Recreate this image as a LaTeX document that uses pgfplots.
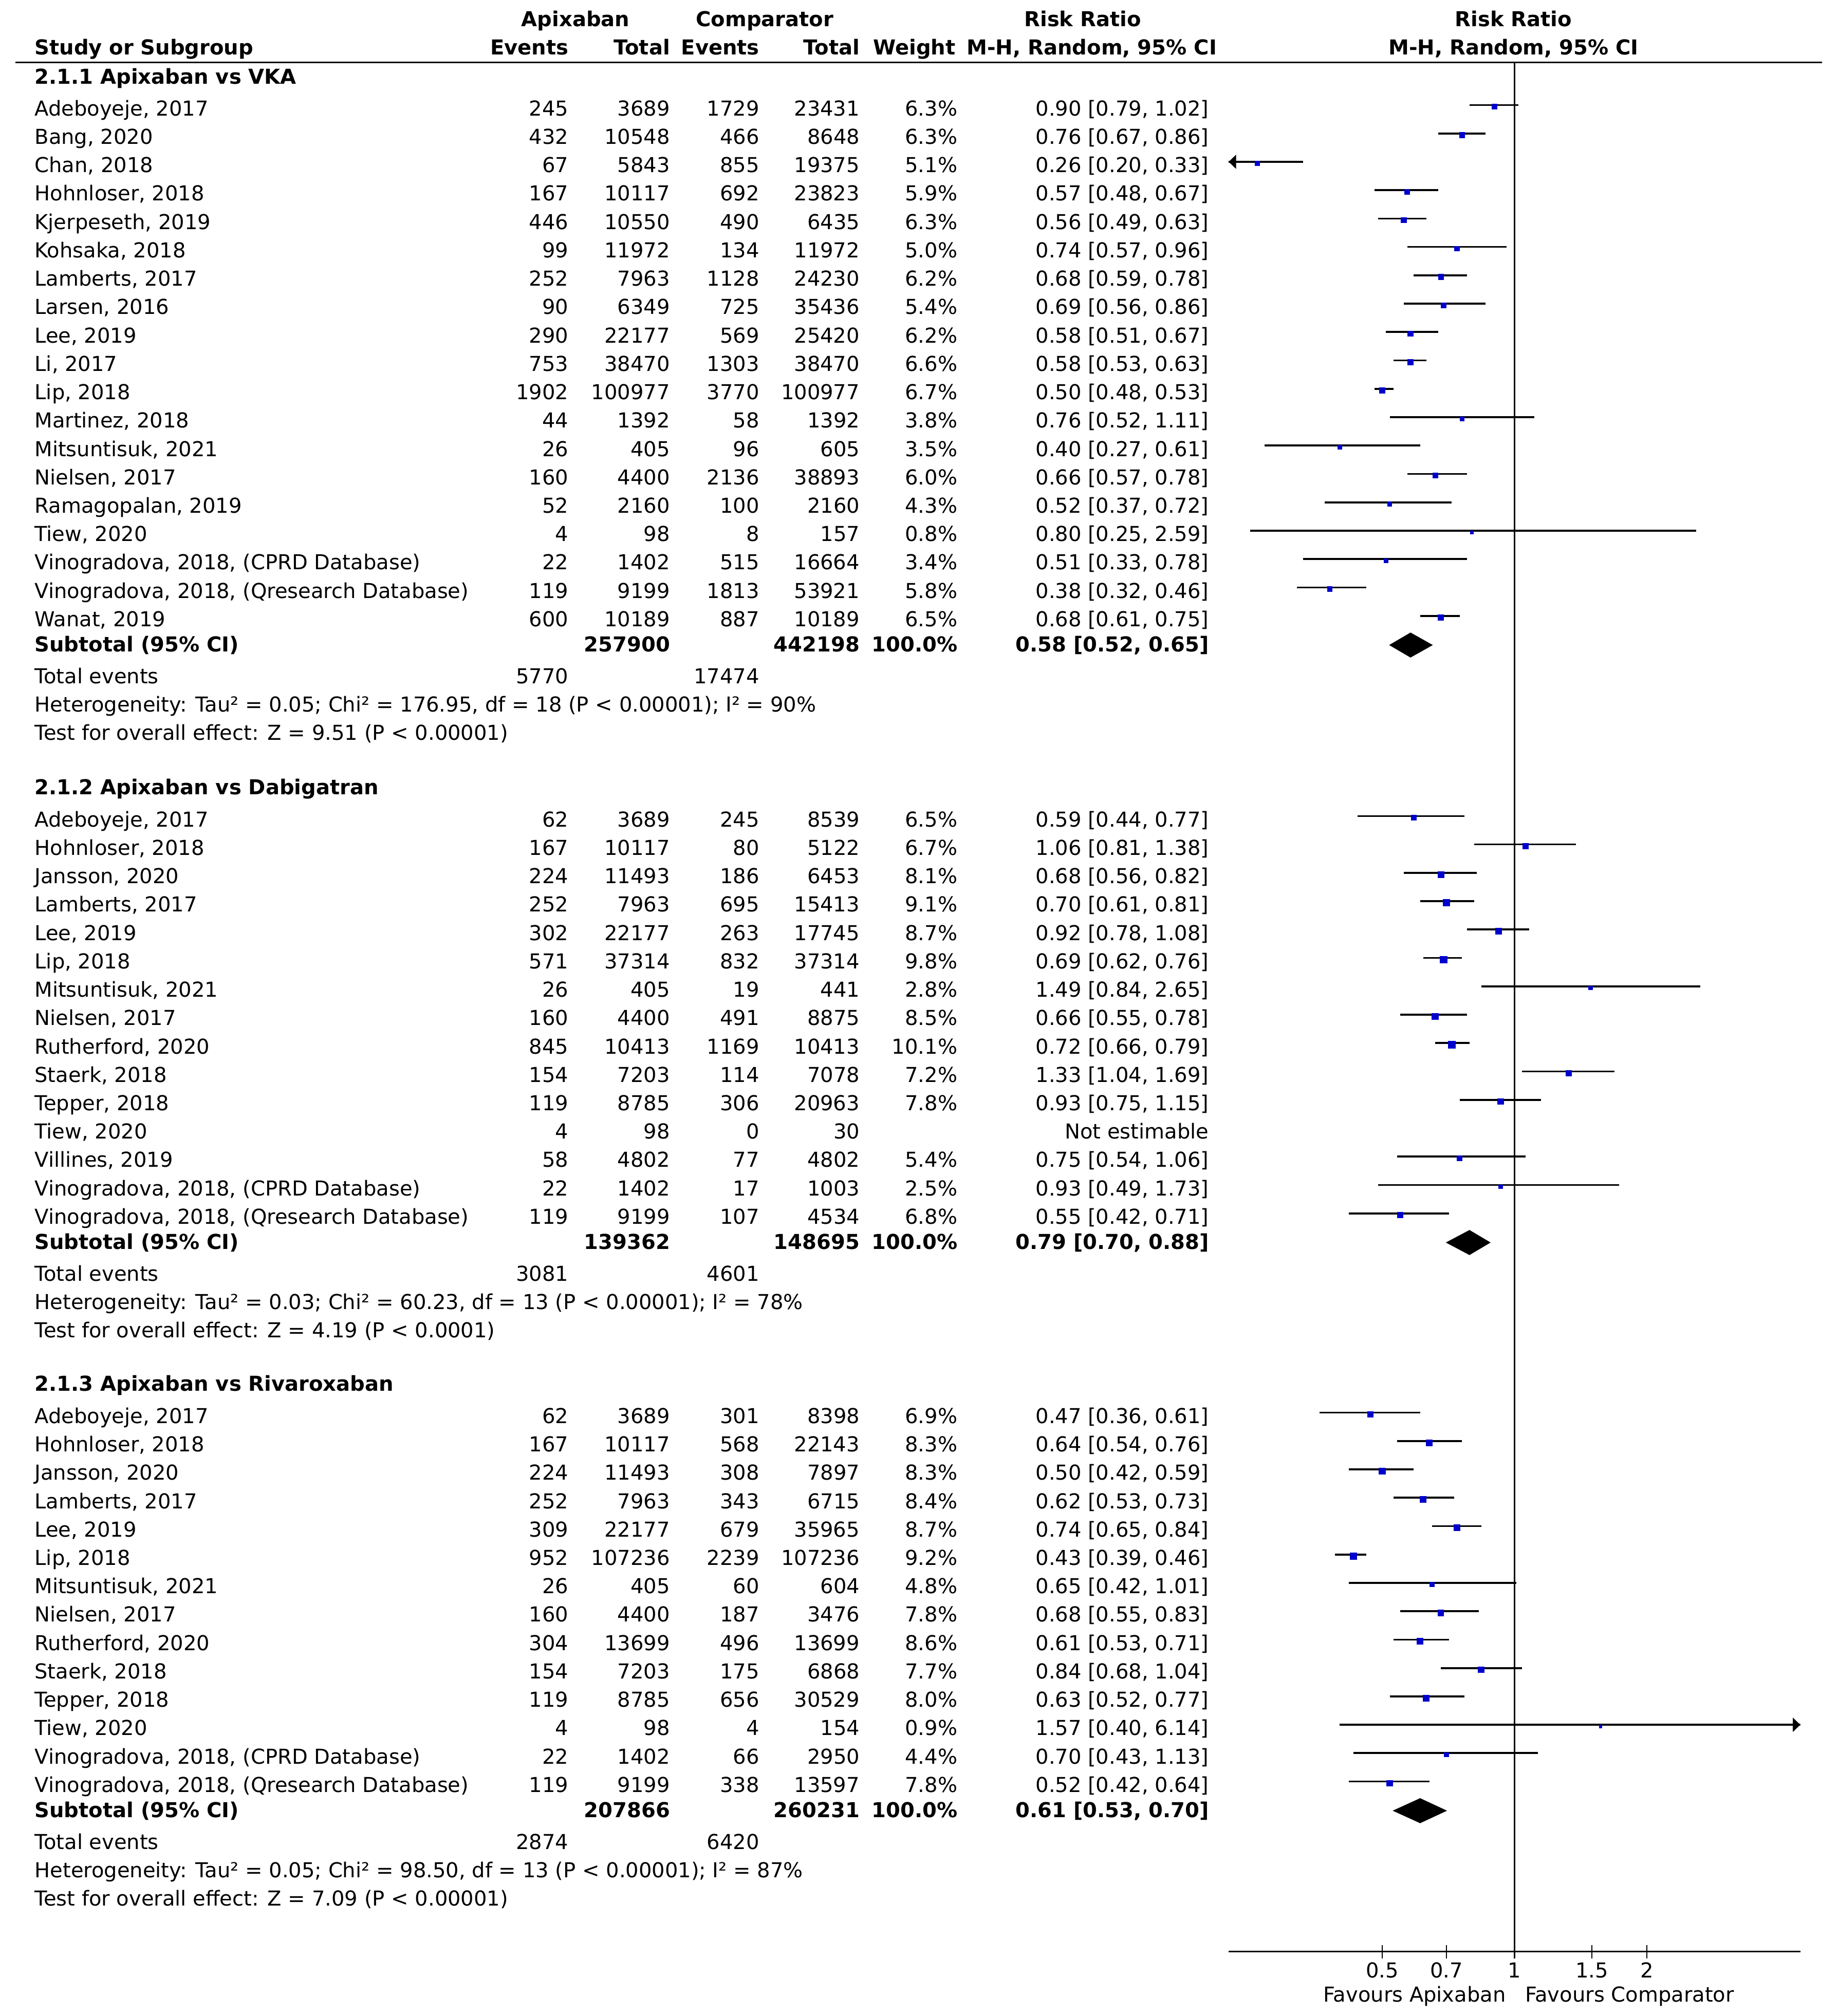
\documentclass[border=0pt]{standalone}
\usepackage{fontspec}
\setmainfont{DejaVu Sans}
\usepackage{pgfplots}
\usepackage{pgfplotstable}
\usetikzlibrary{arrows.meta}
\pgfplotsset{compat=1.18}
\definecolor{mblue}{RGB}{0,0,204}
\newcommand\fs{\fontsize{8}{9.6}\selectfont}

% study rows: i rr lo hi w (weight in %)
\pgfplotstableread{
i rr lo hi w
0 0.90 0.79 1.02 6.3
1 0.76 0.67 0.86 6.3
2 0.26 0.20 0.33 5.1
3 0.57 0.48 0.67 5.9
4 0.56 0.49 0.63 6.3
5 0.74 0.57 0.96 5.0
6 0.68 0.59 0.78 6.2
7 0.69 0.56 0.86 5.4
8 0.58 0.51 0.67 6.2
9 0.58 0.53 0.63 6.6
10 0.50 0.48 0.53 6.7
11 0.76 0.52 1.11 3.8
12 0.40 0.27 0.61 3.5
13 0.66 0.57 0.78 6.0
14 0.52 0.37 0.72 4.3
15 0.80 0.25 2.59 0.8
16 0.51 0.33 0.78 3.4
17 0.38 0.32 0.46 5.8
18 0.68 0.61 0.75 6.5
}\secA
\pgfplotstableread{
i rr lo hi w
0 0.59 0.44 0.77 6.5
1 1.06 0.81 1.38 6.7
2 0.68 0.56 0.82 8.1
3 0.70 0.61 0.81 9.1
4 0.92 0.78 1.08 8.7
5 0.69 0.62 0.76 9.8
6 1.49 0.84 2.65 2.8
7 0.66 0.55 0.78 8.5
8 0.72 0.66 0.79 10.1
9 1.33 1.04 1.69 7.2
10 0.93 0.75 1.15 7.8
12 0.75 0.54 1.06 5.4
13 0.93 0.49 1.73 2.5
14 0.55 0.42 0.71 6.8
}\secB
\pgfplotstableread{
i rr lo hi w
0 0.47 0.36 0.61 6.9
1 0.64 0.54 0.76 8.3
2 0.50 0.42 0.59 8.3
3 0.62 0.53 0.73 8.4
4 0.74 0.65 0.84 8.7
5 0.43 0.39 0.46 9.2
6 0.65 0.42 1.01 4.8
7 0.68 0.55 0.83 7.8
8 0.61 0.53 0.71 8.6
9 0.84 0.68 1.04 7.7
10 0.63 0.52 0.77 8.0
11 1.57 0.40 6.14 0.9
12 0.70 0.43 1.13 4.4
13 0.52 0.42 0.64 7.8
}\secC

\pgfplotsset{
  ciline/.style={only marks, mark=*, mark size=0pt, mark options={draw=none, fill=none},
    error bars/.cd, x dir=both, x explicit,
    error mark=none, error bar style={line width=0.75pt, draw=black}},
  rrmark/.style={only marks, scatter, point meta=\thisrow{w},
    mark=square*,
    scatter/use mapped color={draw=mblue, fill=mblue},
    visualization depends on={\thisrow{w}\as\wt},
    scatter/@pre marker code/.append style={/tikz/mark size={0.4pt+0.085pt*\wt}, /tikz/line width=0pt}},
}

\newcount\ri
\newcommand\srow[7]{%
  \pgfmathsetmacro\yy{\base+22.07*\the\ri}%
  \node[anchor=base west] at (27,\yy) {#1};
  \node[anchor=base east] at (442,\yy) {#2};
  \node[anchor=base east] at (521,\yy) {#3};
  \node[anchor=base east] at (590.5,\yy) {#4};
  \node[anchor=base east] at (668.5,\yy) {#5};
  \node[anchor=base east] at (744.5,\yy) {#6};
  \node[anchor=base east] at (940,\yy) {#7};
  \global\advance\ri by 1\relax}
\newcommand\sechead[3]{\node[anchor=base west,font=\fs\bfseries] at (27,#1) {#2};
  \gdef\base{#3}\global\ri=0\relax}
\newcommand\subtot[4]{%
  \node[anchor=base west,font=\fs\bfseries] at (27,#1) {Subtotal (95\% CI)};
  \node[anchor=base east,font=\fs\bfseries] at (521,#1) {#2};
  \node[anchor=base east,font=\fs\bfseries] at (668.5,#1) {#3};
  \node[anchor=base east,font=\fs\bfseries] at (744.5,#1) {100.0\%};
  \node[anchor=base east,font=\fs\bfseries] at (940,#1) {#4};}
\newcommand\totev[3]{%
  \node[anchor=base west] at (27,#1) {Total events};
  \node[anchor=base east] at (442,#1) {#2};
  \node[anchor=base east] at (590.5,#1) {#3};}
\newcommand\txt[2]{\node[anchor=base west] at (27,#1) {#2};}

\begin{document}
\begin{tikzpicture}[x=0.5pt, y=-0.5pt, every node/.style={font=\fs, inner sep=0pt, outer sep=0pt}]
\path[use as bounding box] (0,0) rectangle (1429,1568);

% column headers
\node[anchor=base, font=\fs\bfseries] at (447.6,20.7) {Apixaban};
\node[anchor=base, font=\fs\bfseries] at (594.7,20.7) {Comparator};
\node[anchor=base, font=\fs\bfseries] at (842,20.7) {Risk Ratio};
\node[anchor=base, font=\fs\bfseries] at (1177,20.7) {Risk Ratio};
\node[anchor=base west, font=\fs\bfseries] at (27,42.7) {Study or Subgroup};
\node[anchor=base east, font=\fs\bfseries] at (442,42.7) {Events};
\node[anchor=base east, font=\fs\bfseries] at (521,42.7) {Total};
\node[anchor=base east, font=\fs\bfseries] at (590.5,42.7) {Events};
\node[anchor=base east, font=\fs\bfseries] at (668.5,42.7) {Total};
\node[anchor=base east, font=\fs\bfseries] at (743,42.7) {Weight};
\node[anchor=base, font=\fs\bfseries] at (849,42.7) {M-H, Random, 95\% CI};
\node[anchor=base, font=\fs\bfseries] at (1177,42.7) {M-H, Random, 95\% CI};
\draw[line width=0.55pt] (12,48.6) -- (1417,48.6);

% 2.1.1
\sechead{65.3}{2.1.1 Apixaban vs VKA}{90}
\srow{Adeboyeje, 2017}{245}{3689}{1729}{23431}{6.3\%}{0.90 [0.79, 1.02]}
\srow{Bang, 2020}{432}{10548}{466}{8648}{6.3\%}{0.76 [0.67, 0.86]}
\srow{Chan, 2018}{67}{5843}{855}{19375}{5.1\%}{0.26 [0.20, 0.33]}
\srow{Hohnloser, 2018}{167}{10117}{692}{23823}{5.9\%}{0.57 [0.48, 0.67]}
\srow{Kjerpeseth, 2019}{446}{10550}{490}{6435}{6.3\%}{0.56 [0.49, 0.63]}
\srow{Kohsaka, 2018}{99}{11972}{134}{11972}{5.0\%}{0.74 [0.57, 0.96]}
\srow{Lamberts, 2017}{252}{7963}{1128}{24230}{6.2\%}{0.68 [0.59, 0.78]}
\srow{Larsen, 2016}{90}{6349}{725}{35436}{5.4\%}{0.69 [0.56, 0.86]}
\srow{Lee, 2019}{290}{22177}{569}{25420}{6.2\%}{0.58 [0.51, 0.67]}
\srow{Li, 2017}{753}{38470}{1303}{38470}{6.6\%}{0.58 [0.53, 0.63]}
\srow{Lip, 2018}{1902}{100977}{3770}{100977}{6.7\%}{0.50 [0.48, 0.53]}
\srow{Martinez, 2018}{44}{1392}{58}{1392}{3.8\%}{0.76 [0.52, 1.11]}
\srow{Mitsuntisuk, 2021}{26}{405}{96}{605}{3.5\%}{0.40 [0.27, 0.61]}
\srow{Nielsen, 2017}{160}{4400}{2136}{38893}{6.0\%}{0.66 [0.57, 0.78]}
\srow{Ramagopalan, 2019}{52}{2160}{100}{2160}{4.3\%}{0.52 [0.37, 0.72]}
\srow{Tiew, 2020}{4}{98}{8}{157}{0.8\%}{0.80 [0.25, 2.59]}
\srow{Vinogradova, 2018, (CPRD Database)}{22}{1402}{515}{16664}{3.4\%}{0.51 [0.33, 0.78]}
\srow{Vinogradova, 2018, (Qresearch Database)}{119}{9199}{1813}{53921}{5.8\%}{0.38 [0.32, 0.46]}
\srow{Wanat, 2019}{600}{10189}{887}{10189}{6.5\%}{0.68 [0.61, 0.75]}
\subtot{506.9}{257900}{442198}{0.58 [0.52, 0.65]}
\totev{531.6}{5770}{17474}
\txt{553.6}{Heterogeneity: Tau² = 0.05; Chi² = 176.95, df = 18 (P < 0.00001); I² = 90\%}
\txt{575.6}{Test for overall effect: Z = 9.51 (P < 0.00001)}

% 2.1.2
\sechead{618}{2.1.2 Apixaban vs Dabigatran}{643}
\srow{Adeboyeje, 2017}{62}{3689}{245}{8539}{6.5\%}{0.59 [0.44, 0.77]}
\srow{Hohnloser, 2018}{167}{10117}{80}{5122}{6.7\%}{1.06 [0.81, 1.38]}
\srow{Jansson, 2020}{224}{11493}{186}{6453}{8.1\%}{0.68 [0.56, 0.82]}
\srow{Lamberts, 2017}{252}{7963}{695}{15413}{9.1\%}{0.70 [0.61, 0.81]}
\srow{Lee, 2019}{302}{22177}{263}{17745}{8.7\%}{0.92 [0.78, 1.08]}
\srow{Lip, 2018}{571}{37314}{832}{37314}{9.8\%}{0.69 [0.62, 0.76]}
\srow{Mitsuntisuk, 2021}{26}{405}{19}{441}{2.8\%}{1.49 [0.84, 2.65]}
\srow{Nielsen, 2017}{160}{4400}{491}{8875}{8.5\%}{0.66 [0.55, 0.78]}
\srow{Rutherford, 2020}{845}{10413}{1169}{10413}{10.1\%}{0.72 [0.66, 0.79]}
\srow{Staerk, 2018}{154}{7203}{114}{7078}{7.2\%}{1.33 [1.04, 1.69]}
\srow{Tepper, 2018}{119}{8785}{306}{20963}{7.8\%}{0.93 [0.75, 1.15]}
\srow{Tiew, 2020}{4}{98}{0}{30}{}{Not estimable}
\srow{Villines, 2019}{58}{4802}{77}{4802}{5.4\%}{0.75 [0.54, 1.06]}
\srow{Vinogradova, 2018, (CPRD Database)}{22}{1402}{17}{1003}{2.5\%}{0.93 [0.49, 1.73]}
\srow{Vinogradova, 2018, (Qresearch Database)}{119}{9199}{107}{4534}{6.8\%}{0.55 [0.42, 0.71]}
\subtot{971.6}{139362}{148695}{0.79 [0.70, 0.88]}
\totev{996.3}{3081}{4601}
\txt{1018.3}{Heterogeneity: Tau² = 0.03; Chi² = 60.23, df = 13 (P < 0.00001); I² = 78\%}
\txt{1040.3}{Test for overall effect: Z = 4.19 (P < 0.0001)}

% 2.1.3
\sechead{1082}{2.1.3 Apixaban vs Rivaroxaban}{1107}
\srow{Adeboyeje, 2017}{62}{3689}{301}{8398}{6.9\%}{0.47 [0.36, 0.61]}
\srow{Hohnloser, 2018}{167}{10117}{568}{22143}{8.3\%}{0.64 [0.54, 0.76]}
\srow{Jansson, 2020}{224}{11493}{308}{7897}{8.3\%}{0.50 [0.42, 0.59]}
\srow{Lamberts, 2017}{252}{7963}{343}{6715}{8.4\%}{0.62 [0.53, 0.73]}
\srow{Lee, 2019}{309}{22177}{679}{35965}{8.7\%}{0.74 [0.65, 0.84]}
\srow{Lip, 2018}{952}{107236}{2239}{107236}{9.2\%}{0.43 [0.39, 0.46]}
\srow{Mitsuntisuk, 2021}{26}{405}{60}{604}{4.8\%}{0.65 [0.42, 1.01]}
\srow{Nielsen, 2017}{160}{4400}{187}{3476}{7.8\%}{0.68 [0.55, 0.83]}
\srow{Rutherford, 2020}{304}{13699}{496}{13699}{8.6\%}{0.61 [0.53, 0.71]}
\srow{Staerk, 2018}{154}{7203}{175}{6868}{7.7\%}{0.84 [0.68, 1.04]}
\srow{Tepper, 2018}{119}{8785}{656}{30529}{8.0\%}{0.63 [0.52, 0.77]}
\srow{Tiew, 2020}{4}{98}{4}{154}{0.9\%}{1.57 [0.40, 6.14]}
\srow{Vinogradova, 2018, (CPRD Database)}{22}{1402}{66}{2950}{4.4\%}{0.70 [0.43, 1.13]}
\srow{Vinogradova, 2018, (Qresearch Database)}{119}{9199}{338}{13597}{7.8\%}{0.52 [0.42, 0.64]}
\subtot{1413.5}{207866}{260231}{0.61 [0.53, 0.70]}
\totev{1438.2}{2874}{6420}
\txt{1460.2}{Heterogeneity: Tau² = 0.05; Chi² = 98.50, df = 13 (P < 0.00001); I² = 87\%}
\txt{1482.2}{Test for overall effect: Z = 7.09 (P < 0.00001)}

\node[anchor=base east] at (1171,1557) {Favours Apixaban};
\node[anchor=base west] at (1186,1557) {Favours Comparator};

\begin{axis}[
  at={(477.75pt,-24.3pt)}, anchor=north west,
  scale only axis, width=222.25pt, height=734.7pt,
  xmode=log, xmin=0.2237, xmax=4.47, ymin=-1518, ymax=-48.6,
  axis x line=bottom, axis y line=none,
  x axis line style={-, line width=0.6pt},
  xtick={0.5,0.7,1,1.5,2}, xticklabels={0.5,0.7,1,1.5,2},
  minor xtick={}, ytick=\empty,
  xtick align=center, major tick length=5.35pt,
  every tick/.style={black, line width=0.5pt},
  xticklabel style={font=\fs, anchor=base, inner sep=0pt, yshift=-7.4pt},
  /pgf/number format/assume math mode=true,
]
\addplot[line width=0.55pt] coordinates {(1,-48.6) (1,-1518)};

\addplot[ciline] table[x=rr, y expr={-(90+22.07*\thisrow{i})+8.3},
  x error plus expr={\thisrow{hi}-\thisrow{rr}}, x error minus expr={\thisrow{rr}-\thisrow{lo}}] {\secA};
\addplot[ciline] table[x=rr, y expr={-(643+22.07*\thisrow{i})+8.3},
  x error plus expr={\thisrow{hi}-\thisrow{rr}}, x error minus expr={\thisrow{rr}-\thisrow{lo}}] {\secB};
\addplot[ciline] table[x=rr, y expr={-(1107+22.07*\thisrow{i})+8.3},
  x error plus expr={\thisrow{hi}-\thisrow{rr}}, x error minus expr={\thisrow{rr}-\thisrow{lo}}] {\secC};

% CIs running off the scale
\addplot[line width=0.75pt, -{Triangle[length=2.9pt,width=5.4pt]}] coordinates {(0.26,-125.84) (0.2237,-125.84)};
\addplot[line width=0.75pt, -{Triangle[length=2.9pt,width=5.4pt]}] coordinates {(1.57,-1341.47) (4.47,-1341.47)};

\addplot[rrmark] table[x=rr, y expr={-(90+22.07*\thisrow{i})+7}] {\secA};
\addplot[rrmark] table[x=rr, y expr={-(643+22.07*\thisrow{i})+7}] {\secB};
\addplot[rrmark] table[x=rr, y expr={-(1107+22.07*\thisrow{i})+7}] {\secC};

% subtotal diamonds
\addplot[fill=black, draw=black, line width=0.2pt] coordinates {(0.52,-501.7) (0.58,-492.2) (0.65,-501.7) (0.58,-511.2)} --cycle;
\addplot[fill=black, draw=black, line width=0.2pt] coordinates {(0.70,-966.4) (0.79,-956.9) (0.88,-966.4) (0.79,-975.9)} --cycle;
\addplot[fill=black, draw=black, line width=0.2pt] coordinates {(0.53,-1408.3) (0.61,-1398.8) (0.70,-1408.3) (0.61,-1417.8)} --cycle;
\end{axis}
\end{tikzpicture}
\end{document}
